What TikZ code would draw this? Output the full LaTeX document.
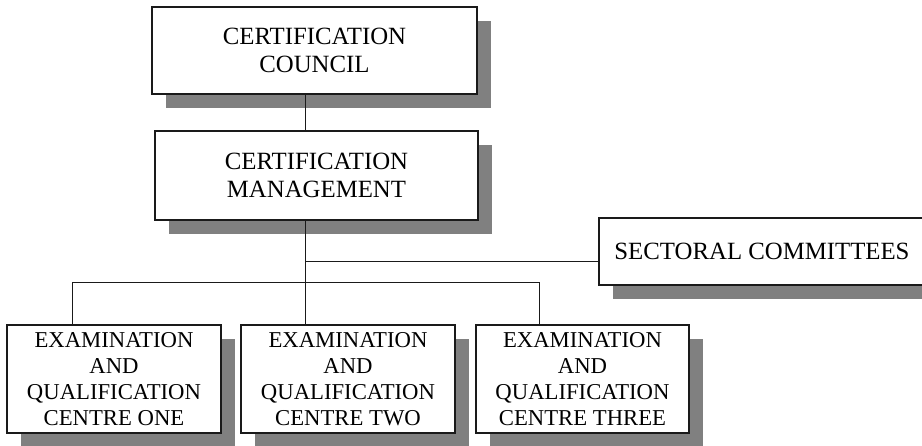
\documentclass[tikz,border=0pt]{standalone}
\usepackage{fontspec}
\setmainfont{Liberation Serif}
\usetikzlibrary{shadows}
\definecolor{shadowgray}{HTML}{808080}
\definecolor{ink}{HTML}{1A1A1A}
\tikzset{
  orgbox/.style={draw=ink, line width=1.2pt, fill=white, rectangle, inner sep=0pt,
    align=center, text=black,
    general shadow={fill=shadowgray, opacity=1, shadow xshift=14pt, shadow yshift=-14pt}},
  bigtext/.style={font=\fontsize{24.8}{27.7}\selectfont},
  smalltext/.style={font=\fontsize{22.7}{26}\selectfont},
  link/.style={draw=ink, line width=1pt}
}
\begin{document}
\begin{tikzpicture}[x=1pt, y=-1pt]
\useasboundingbox (0,0) rectangle (922,445);
\clip (0,0) rectangle (922,445);
\node[orgbox, bigtext, minimum width=325pt, minimum height=87pt] (council) at (314.5,50.5) {CERTIFICATION\\COUNCIL};
\node[orgbox, bigtext, minimum width=323pt, minimum height=89pt] (mgmt) at (316.5,175.5) {CERTIFICATION\\MANAGEMENT};
\node[orgbox, bigtext, minimum width=326pt, minimum height=67pt] (sect) at (762,251.5) {SECTORAL COMMITTEES};
\node[orgbox, smalltext, minimum width=214pt, minimum height=108pt] (b1) at (114,379) {EXAMINATION\\AND\\QUALIFICATION\\CENTRE ONE};
\node[orgbox, smalltext, minimum width=214pt, minimum height=108pt] (b2) at (348,379) {EXAMINATION\\AND\\QUALIFICATION\\CENTRE TWO};
\node[orgbox, smalltext, minimum width=213pt, minimum height=108pt] (b3) at (582.5,379) {EXAMINATION\\AND\\QUALIFICATION\\CENTRE THREE};
\coordinate (j) at (305,261);
\coordinate (k) at (305,282);
\coordinate (c1) at (72,282);
\coordinate (c3) at (539,282);
\draw[link] (council.south -| j) -- (mgmt.north -| j);
\draw[link] (mgmt.south -| j) -- (b2.north -| j);
\draw[link] (j) -- (j -| sect.west);
\draw[link] (c1 |- b1.north) -- (c1) -- (c3) -- (c3 |- b3.north);
\end{tikzpicture}
\end{document}
